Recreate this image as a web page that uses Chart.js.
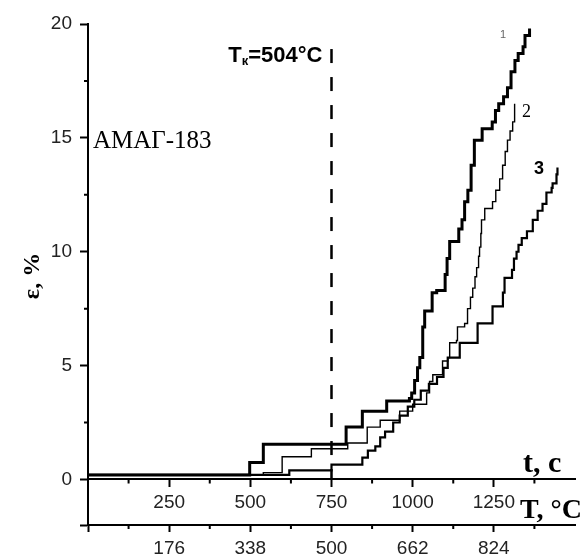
<!DOCTYPE html>
<html><head><meta charset="utf-8">
<script src="https://cdn.jsdelivr.net/npm/chart.js@4.4.1/dist/chart.umd.min.js"></script>
<style>html,body{margin:0;padding:0;background:#fff;}canvas{display:block;}</style>
</head><body>
<canvas id="c" width="581" height="557"></canvas>
<script>
// ---- data ----
const timeTicks = [250, 500, 750, 1000, 1250];            // t, c
const tempLabels = ['176', '338', '500', '662', '824'];   // T, °C at the same positions
const strainTicks = [0, 5, 10, 15, 20];                  // ε, %
const minorTime = [125, 375, 625, 875, 1125, 1375];
const minorStrain = [2.5, 7.5, 12.5, 17.5];

const curve1T = [0, 498, 540, 795, 845, 920, 990, 997, 1006, 1015, 1022, 1031, 1037, 1060, 1074, 1100, 1106, 1114, 1142, 1152, 1160, 1170, 1180, 1190, 1214, 1245, 1255, 1265, 1280, 1292, 1303, 1315, 1325, 1340, 1346, 1360];
const curve1E = [0.2, 0.75, 1.55, 2.3, 3.0, 3.45, 3.55, 3.8, 4.35, 4.9, 5.35, 6.7, 7.4, 8.2, 8.3, 9.0, 9.7, 10.45, 11.0, 11.4, 12.2, 12.7, 13.8, 14.9, 15.4, 15.7, 16.2, 16.5, 16.8, 17.2, 17.9, 18.4, 18.7, 19.0, 19.5, 19.8];

const curve2T = [0, 540, 598, 688, 800, 860, 900, 960, 1000, 1043, 1052, 1062, 1092, 1108, 1114, 1135, 1138, 1160, 1169, 1178, 1185, 1192, 1197, 1203, 1206, 1210, 1212, 1222, 1246, 1256, 1268, 1277, 1285, 1292, 1300, 1308, 1314];
const curve2E = [0.2, 0.3, 1.0, 1.35, 1.6, 2.3, 2.6, 3.0, 3.3, 3.8, 4.3, 4.6, 5.2, 5.35, 6.0, 6.1, 6.7, 6.85, 7.5, 8.0, 8.4, 8.9, 9.3, 9.8, 10.2, 10.8, 11.4, 11.9, 12.2, 12.7, 13.2, 13.8, 14.4, 14.9, 15.3, 15.7, 16.5];

const curve3T = [0, 620, 750, 845, 862, 885, 900, 915, 940, 960, 985, 1005, 1025, 1050, 1075, 1095, 1108, 1145, 1200, 1246, 1278, 1283, 1306, 1312, 1320, 1326, 1336, 1352, 1370, 1385, 1400, 1412, 1428, 1431, 1443, 1446];
const curve3E = [0.2, 0.4, 0.65, 0.96, 1.27, 1.45, 1.85, 2.1, 2.5, 2.8, 3.2, 3.5, 3.9, 4.2, 4.5, 4.9, 5.35, 6.0, 6.85, 7.6, 8.2, 8.85, 9.2, 9.7, 10.0, 10.3, 10.6, 10.9, 11.4, 11.8, 12.1, 12.6, 12.8, 13.0, 13.4, 13.7];

const tkTime = 750;      // Tк = 504 °C
const tkLineE = [18.9, 0];

const pts = (ts, es) => ts.map((t, i) => ({x: t, y: es[i]}));

const annot = {
  id: 'annot',
  afterDraw(chart) {
    const {ctx, scales: {x, y}, chartArea} = chart;
    ctx.save();
    ctx.strokeStyle = '#000';
    ctx.lineWidth = 2;
    const y0 = y.getPixelForValue(0);
    const yb = chartArea.bottom;
    ctx.beginPath();
    minorTime.forEach(v => {
      const px = x.getPixelForValue(v);
      ctx.moveTo(px, y0); ctx.lineTo(px, y0 + 4);
      ctx.moveTo(px, yb); ctx.lineTo(px, yb + 4);
    });
    minorStrain.forEach(v => {
      const py = y.getPixelForValue(v);
      ctx.moveTo(chartArea.left - 4, py); ctx.lineTo(chartArea.left, py);
    });
    ctx.stroke();

    ctx.fillStyle = '#000';
    ctx.textBaseline = 'alphabetic';
    // Tк=504°C
    const xr = x.getPixelForValue(tkTime) - 9;
    const by = 62;
    ctx.font = 'bold 22px "Liberation Sans"';
    const wT = ctx.measureText('T').width;
    const wRest = ctx.measureText('=504°C').width;
    ctx.font = 'bold 13px "Liberation Sans"';
    const wK = ctx.measureText('к').width;
    let sx = xr - (wT + wK + wRest);
    ctx.font = 'bold 22px "Liberation Sans"';
    ctx.fillText('T', sx, by);
    ctx.font = 'bold 13px "Liberation Sans"';
    ctx.fillText('к', sx + wT, by + 3);
    ctx.font = 'bold 22px "Liberation Sans"';
    ctx.fillText('=504°C', sx + wT + wK, by);

    // alloy
    ctx.font = '25px "Liberation Serif"';
    ctx.fillText('АМАГ-183', 93, 148);

    // axis titles
    ctx.font = 'bold 30px "Liberation Serif"';
    ctx.fillText('t, c', 523, 472);
    ctx.font = 'bold 28px "Liberation Serif"';
    ctx.fillText('T, °C', 520, 518);
    ctx.save();
    ctx.translate(39, 276);
    ctx.rotate(-Math.PI / 2);
    ctx.font = 'bold 24px "Liberation Serif"';
    ctx.textAlign = 'center';
    ctx.fillText('ε, %', 0, 0);
    ctx.restore();

    // curve labels
    ctx.font = '18px "Liberation Serif"';
    ctx.fillText('2', 522, 117);
    ctx.font = 'bold 18px "Liberation Sans"';
    ctx.fillText('3', 534, 174);
    ctx.font = '11px "Liberation Sans"';
    ctx.fillStyle = '#666';
    ctx.fillText('1', 500, 38);
    ctx.restore();
  }
};

const tickFont = {family: '"Liberation Sans"', size: 19};

new Chart(document.getElementById('c'), {
  type: 'line',
  data: {
    datasets: [
      {label: '1', data: pts(curve1T, curve1E), stepped: true, borderColor: '#000', borderWidth: 3, pointRadius: 0, fill: false},
      {label: '2', data: pts(curve2T, curve2E), stepped: true, borderColor: '#000', borderWidth: 1.4, pointRadius: 0, fill: false},
      {label: '3', data: pts(curve3T, curve3E), stepped: true, borderColor: '#000', borderWidth: 2.2, pointRadius: 0, fill: false},
      {label: 'Tk', data: tkLineE.map(e => ({x: tkTime, y: e})), borderColor: '#000', borderWidth: 2.5, borderDash: [14, 14], pointRadius: 0, fill: false}
    ]
  },
  options: {
    responsive: false,
    devicePixelRatio: 1,
    animation: false,
    layout: {padding: {left: 0, right: 6, top: 24, bottom: 0}},
    plugins: {legend: {display: false}, tooltip: {enabled: false}},
    scales: {
      x: {
        type: 'linear', position: {y: 0}, min: 0, max: 1500,
        afterBuildTicks: s => { s.ticks = timeTicks.map(v => ({value: v})); },
        grid: {drawOnChartArea: false, tickLength: 7, tickWidth: 2, tickColor: '#000'},
        border: {display: true, color: '#000', width: 2},
        ticks: {font: tickFont, color: '#222', padding: 5, autoSkip: false, maxRotation: 0,
          callback: v => String(v)}
      },
      x2: {
        type: 'linear', position: 'bottom', min: 0, max: 1500,
        afterBuildTicks: s => { s.ticks = [0].concat(timeTicks).map(v => ({value: v})); },
        afterFit: s => { s.height = 32; },
        grid: {drawOnChartArea: false, tickLength: 7, tickWidth: 2, tickColor: '#000'},
        border: {display: true, color: '#000', width: 2},
        ticks: {font: tickFont, color: '#222', padding: 5, autoSkip: false, maxRotation: 0,
          callback: v => { const i = timeTicks.indexOf(v); return i < 0 ? '' : tempLabels[i]; }}
      },
      y: {
        type: 'linear', position: 'left', min: -2, max: 20,
        afterBuildTicks: s => { s.ticks = [-2].concat(strainTicks).map(v => ({value: v})); },
        afterFit: s => { s.width = 88; },
        grid: {drawOnChartArea: false, tickLength: 8, tickWidth: 2, tickColor: '#000'},
        border: {display: true, color: '#000', width: 2},
        ticks: {font: tickFont, color: '#222', padding: 8, autoSkip: false,
          callback: v => (v === -2 ? '' : String(v))}
      }
    }
  },
  plugins: [annot]
});
</script>
</body></html>
